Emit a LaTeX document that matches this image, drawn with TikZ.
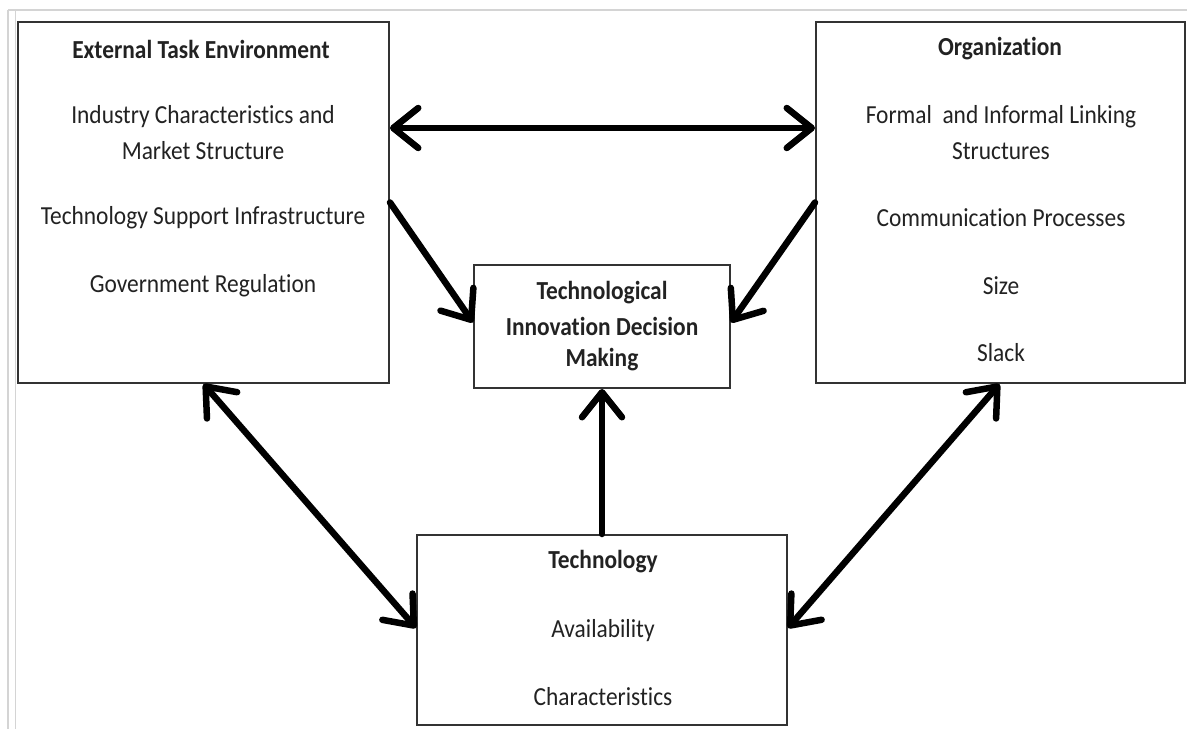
\documentclass[tikz,border=0pt]{standalone}
\usepackage{fontspec}
\setmainfont{Carlito}[FakeStretch=0.9,RawFeature={-liga;-clig;-calt;-dlig}]
\usetikzlibrary{arrows.meta}
\definecolor{boxline}{HTML}{333333}
\definecolor{txt}{HTML}{222222}
\definecolor{frame}{HTML}{D4D4D4}
\tikzset{
  box/.style={draw=boxline, line width=2pt, fill=white, rectangle, inner sep=0pt},
  lbl/.style={text=txt, font=\fontsize{26}{30}\selectfont, inner sep=0pt, anchor=center},
  head/.style={lbl, font=\fontsize{26}{30}\selectfont\bfseries},
  conn/.style={line width=6.5pt, line cap=round, black, {Straight Barb[length=25pt,width=40pt,round]}-{Straight Barb[length=25pt,width=40pt,round]}},
  oneway/.style={line width=6.5pt, line cap=round, black, -{Straight Barb[length=25pt,width=40pt,round]}}
}
\begin{document}
\begin{tikzpicture}[x=1pt,y=-1pt]
\useasboundingbox (0,0) rectangle (1187,729);
\fill[white] (0,0) rectangle (1187,729);
\draw[frame, line width=1.5pt] (8,10) -- (1187,10);
\draw[frame, line width=1.5pt] (8,10) -- (8,729);
\draw[frame, line width=1pt] (15,10) -- (15,729);

% boxes
\node[box, minimum width=371pt, minimum height=361pt] (ext) at (203.5,202.5) {};
\node[box, minimum width=369pt, minimum height=361pt] (org) at (1000.5,202.5) {};
\node[box, minimum width=256pt, minimum height=123pt] (cen) at (602,326.5) {};
\node[box, minimum width=370pt, minimum height=190pt] (tech) at (602,630) {};

% texts: external
\node[head] (e1) at (201,49) {External Task Environment};
\node[lbl] (e2) at (203,117) {Industry Characteristics and};
\node[lbl] (e3) at (203,151) {Market Structure};
\node[lbl] (e4) at (203,218) {Technology Support Infrastructure};
\node[lbl] (e5) at (203,286) {Government Regulation};
% organization
\node[head] (o1) at (1000,49) {Organization};
\node[lbl] (o2) at (1001,117) {Formal\ \ and Informal Linking};
\node[lbl] (o3) at (1001,151) {Structures};
\node[lbl] (o4) at (1001,218) {Communication\ Processes};
\node[lbl] (o5) at (1001,286) {Size};
\node[lbl] (o6) at (1001,353) {Slack};
% center
\node[head] (c1) at (602,293) {Technological};
\node[head] (c2) at (602,326) {Innovation Decision};
\node[head] (c3) at (602,360) {Making};
% technology
\node[head] (t1) at (603,562) {Technology};
\node[lbl] (t2) at (603,631) {Availability};
\node[lbl] (t3) at (603,697) {Characteristics};

% connectors
\draw[conn] ([yshift=74.5pt]ext.east) -- ([yshift=74.5pt]org.west);
\draw[oneway] (ext.east) -- ([yshift=4pt]cen.west);
\draw[oneway] (org.west) -- ([yshift=4pt]cen.east);
\draw[oneway] (tech.north) -- (cen.south);
\draw[conn] (ext.south) -- ([yshift=2pt]tech.west);
\draw[conn] ([xshift=-1pt]org.south) -- ([yshift=2pt]tech.east);
\end{tikzpicture}
\end{document}
